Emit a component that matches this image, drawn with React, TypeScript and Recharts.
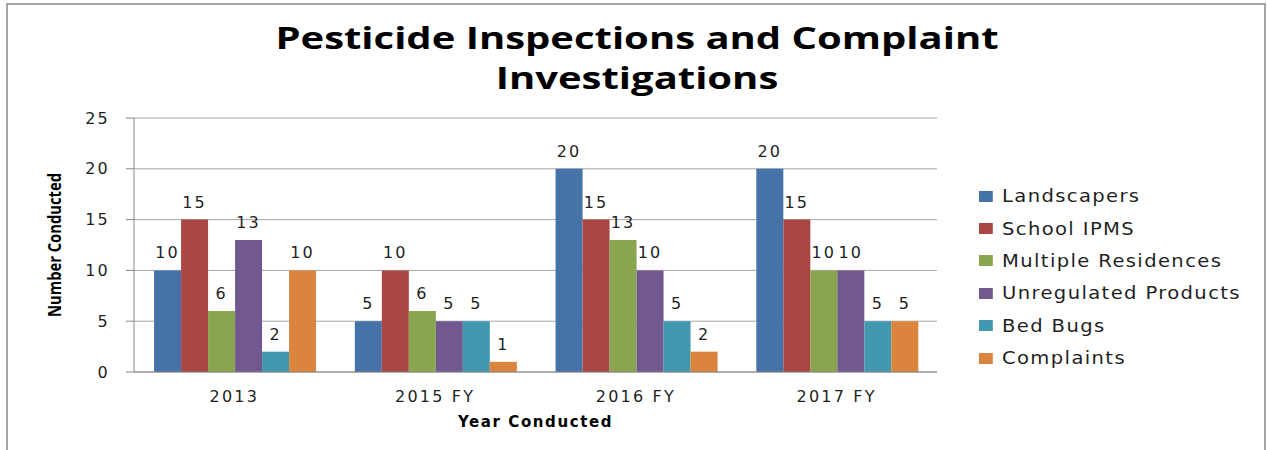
import React from "react";
import { BarChart, Bar, XAxis, YAxis, CartesianGrid, LabelList, Label, Legend } from "recharts";

const categories = ["2013", "2015 FY", "2016 FY", "2017 FY"];
const landscapers = [10, 5, 20, 20];
const schoolIpms = [15, 10, 15, 15];
const multipleResidences = [6, 6, 13, 10];
const unregulatedProducts = [13, 5, 10, 10];
const bedBugs = [2, 5, 5, 5];
const complaints = [10, 1, 2, 5];
const yTicks = [0, 5, 10, 15, 20, 25];

const seriesNames = ["Landscapers", "School IPMS", "Multiple Residences", "Unregulated Products", "Bed Bugs", "Complaints"];
const seriesKeys = ["landscapers", "schoolIpms", "multipleResidences", "unregulatedProducts", "bedBugs", "complaints"];
const seriesColors = ["#4572A7", "#AA4643", "#89A54E", "#71588F", "#4198AF", "#DB843D"];

const data = categories.map((c, i) => ({
  name: c,
  landscapers: landscapers[i],
  schoolIpms: schoolIpms[i],
  multipleResidences: multipleResidences[i],
  unregulatedProducts: unregulatedProducts[i],
  bedBugs: bedBugs[i],
  complaints: complaints[i],
}));

const FONT = "'DejaVu Sans', Verdana, sans-serif";
const TEXT_COLOR = "#1f1f1f";

const LegendContent = () => (
  <div style={{ position: "absolute", left: 979, top: 180, fontFamily: FONT, fontSize: 17, letterSpacing: 1.2, color: TEXT_COLOR, whiteSpace: "nowrap", transform: "scaleX(1.15)", transformOrigin: "0 0" }}>
    {seriesNames.map((n, i) => (
      <div key={n} style={{ display: "flex", alignItems: "center", height: 32.4, whiteSpace: "nowrap" }}>
        <span style={{ display: "inline-block", width: 12, height: 11, background: seriesColors[i], marginRight: 8, flex: "none" }} />
        <span style={{ lineHeight: "18px", whiteSpace: "nowrap" }}>{n}</span>
      </div>
    ))}
  </div>
);

export default function App() {
  return (
    <div style={{ position: "absolute", left: 0, top: 0, width: 1267, height: 450, background: "#fff", overflow: "hidden" }}>
      <div style={{ position: "absolute", left: 6, top: 3, width: 1260, height: 470, boxSizing: "border-box", border: "2px solid #a6a6a6", borderBottom: "none" }} />
      <div style={{ position: "absolute", left: 0, top: 17, width: 1274, textAlign: "center", fontFamily: "'Open Sans', sans-serif", fontWeight: 700, fontSize: 31, lineHeight: "40px", color: "#000", transform: "scaleX(1.29)", transformOrigin: "637px 0" }}>
        Pesticide Inspections and Complaint<br />Investigations
      </div>
      <BarChart
        width={1267}
        height={450}
        data={data}
        margin={{ top: 118, right: 330, bottom: 0, left: 0 }}
        barCategoryGap="10%"
        barGap={0}
        style={{ position: "absolute", left: 0, top: 0 }}
      >
        <CartesianGrid vertical={false} stroke="#a6a6a6" strokeWidth={1} />
        <XAxis
          dataKey="name"
          height={78}
          tickLine={false}
          tickSize={0}
          tickMargin={19}
          axisLine={{ stroke: "#868686" }}
          tick={{ fontFamily: FONT, fontSize: 16, fill: TEXT_COLOR, letterSpacing: 2.2 }}
        >
          <Label
            content={({ viewBox }: any) => (
              <text x={viewBox.x + viewBox.width / 2} y={427} textAnchor="middle" fontFamily={FONT} fontWeight={700} fontSize={15} fill="#000" letterSpacing={1.6}>
                Year Conducted
              </text>
            )}
          />
        </XAxis>
        <YAxis
          width={134}
          domain={[0, 25]}
          ticks={yTicks}
          tickSize={8}
          tickMargin={16}
          axisLine={{ stroke: "#868686" }}
          tickLine={{ stroke: "#868686" }}
          tick={{ fontFamily: FONT, fontSize: 16, fill: TEXT_COLOR, letterSpacing: 2.2 }}
        >
          <Label
            content={() => (
              <text x={61} y={245} transform="rotate(-90 61 245)" textAnchor="middle" textLength={144} lengthAdjust="spacingAndGlyphs" fontFamily="'Open Sans', sans-serif" fontWeight={700} fontSize={17} fill="#000">
                Number Conducted
              </text>
            )}
          />
        </YAxis>
        <Legend content={<LegendContent />} wrapperStyle={{ position: "absolute", left: 0, top: 0, width: 0, height: 0 }} />
        {seriesKeys.map((k, i) => (
          <Bar key={k} dataKey={k} name={seriesNames[i]} fill={seriesColors[i]} isAnimationActive={false}>
            <LabelList dataKey={k} position="top" offset={12} style={{ fontFamily: FONT, fontSize: 16, fill: TEXT_COLOR, letterSpacing: 2.2 }} />
          </Bar>
        ))}
      </BarChart>
    </div>
  );
}
